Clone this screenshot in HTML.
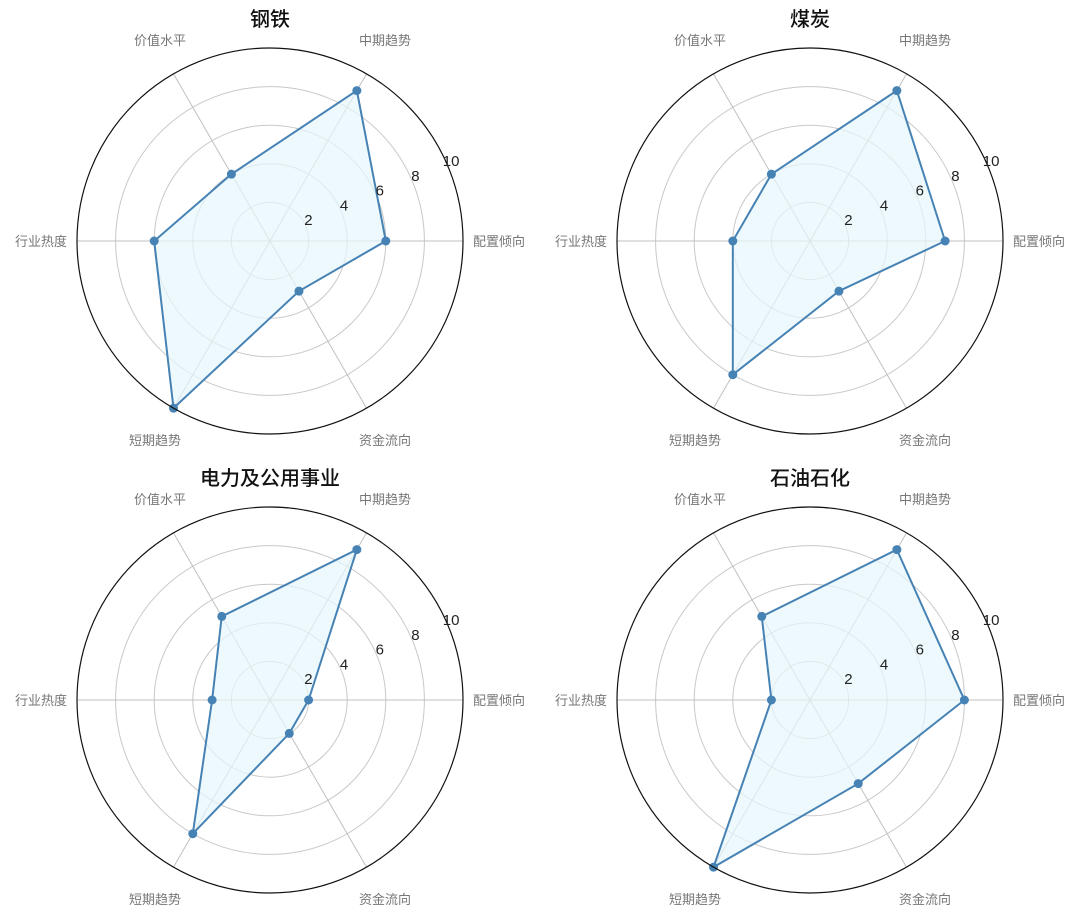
<!DOCTYPE html>
<html><head><meta charset="utf-8"><style>
body{margin:0;background:#fff;}
svg text{font-family:"Liberation Sans","Noto Sans CJK SC",sans-serif;}
</style></head><body>
<svg id="s" width="1080" height="917" xmlns="http://www.w3.org/2000/svg"></svg>
<script>
const charts=[
 {t:"钢铁",cx:270,cy:241,v:[6,9,4,6,10,3]},
 {t:"煤炭",cx:810,cy:241,v:[7,9,4,4,8,3]},
 {t:"电力及公用事业",cx:270,cy:700,v:[2,9,5,3,8,2]},
 {t:"石油石化",cx:810,cy:700,v:[8,9,5,2,10,5]}];
const labels=["配置倾向","中期趋势","价值水平","行业热度","短期趋势","资金流向"];
const R=193;let h="";
for(const c of charts){
 const{cx,cy}=c;
 for(let k=1;k<=4;k++)h+=`<circle cx="${cx}" cy="${cy}" r="${R*k/5}" fill="none" stroke="#c8c8c8" stroke-width="1"/>`;
 for(let i=0;i<6;i++){const a=i*Math.PI/3;h+=`<line x1="${cx}" y1="${cy}" x2="${cx+R*Math.cos(a)}" y2="${cy-R*Math.sin(a)}" stroke="#c0c0c0" stroke-width="1"/>`;}
 const pts=c.v.map((v,i)=>{const a=i*Math.PI/3;return[cx+R*v/10*Math.cos(a),cy-R*v/10*Math.sin(a)]});
 h+=`<polygon points="${pts.map(p=>p.join(',')).join(' ')}" fill="#e6f6fb" fill-opacity="0.7" stroke="#4682b4" stroke-width="2"/>`;
 for(const p of pts)h+=`<circle cx="${p[0]}" cy="${p[1]}" r="4.5" fill="#4682b4"/>`;
 h+=`<circle cx="${cx}" cy="${cy}" r="${R}" fill="none" stroke="#111" stroke-width="1.2"/>`;
 const ta=22.5*Math.PI/180;
 for(let k=1;k<=5;k++){const r=R*k/5+3;h+=`<text x="${cx+r*Math.cos(ta)}" y="${cy-r*Math.sin(ta)}" font-size="15" fill="#222" text-anchor="middle">${2*k}</text>`;}
 h+=`<text x="${cx+203}" y="${cy+5}" font-size="13" fill="#777">${labels[0]}</text>`;
 h+=`<text x="${cx+115}" y="${cy-196}" font-size="13" fill="#777" text-anchor="middle">${labels[1]}</text>`;
 h+=`<text x="${cx-110}" y="${cy-196}" font-size="13" fill="#777" text-anchor="middle">${labels[2]}</text>`;
 h+=`<text x="${cx-203}" y="${cy+5}" font-size="13" fill="#777" text-anchor="end">${labels[3]}</text>`;
 h+=`<text x="${cx-115}" y="${cy+204}" font-size="13" fill="#777" text-anchor="middle">${labels[4]}</text>`;
 h+=`<text x="${cx+115}" y="${cy+204}" font-size="13" fill="#777" text-anchor="middle">${labels[5]}</text>`;
 h+=`<text x="${cx}" y="${cy-215}" font-size="20" fill="#111" text-anchor="middle" font-weight="500">${c.t}</text>`;
}
document.getElementById('s').innerHTML=h;
</script>
</body></html>
